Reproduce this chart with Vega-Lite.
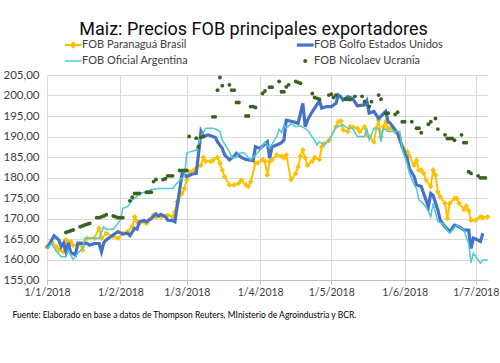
{
  "$schema": "https://vega.github.io/schema/vega-lite/v6.json",
  "width": 441,
  "height": 205,
  "autosize": "none",
  "padding": {"left": 47, "top": 75, "right": 12, "bottom": 83},
  "background": "white",
  "config": {"view": {"stroke": null}},
  "title": {
    "text": "Maiz: Precios FOB principales exportadores",
    "font": "Roboto",
    "fontSize": 18,
    "fontWeight": "normal",
    "color": "#0D0D0D",
    "anchor": "middle",
    "frame": "group",
    "baseline": "alphabetic",
    "dx": -14,
    "dy": 23,
    "offset": 10
  },
  "datasets": {
    "usa": [
      {"d": "2018-01-01", "v": 162.7}, {"d": "2018-01-04", "v": 165.8}, {"d": "2018-01-06", "v": 164.8}, {"d": "2018-01-07", "v": 163.1}, {"d": "2018-01-08", "v": 164.0}, {"d": "2018-01-09", "v": 161.9}, {"d": "2018-01-10", "v": 164.1}, {"d": "2018-01-11", "v": 161.7}, {"d": "2018-01-13", "v": 161.1}, {"d": "2018-01-14", "v": 164.0}, {"d": "2018-01-18", "v": 163.9}, {"d": "2018-01-19", "v": 163.5}, {"d": "2018-01-21", "v": 163.9}, {"d": "2018-01-23", "v": 163.9}, {"d": "2018-01-24", "v": 161.9}, {"d": "2018-01-25", "v": 164.1}, {"d": "2018-01-26", "v": 164.8}, {"d": "2018-01-28", "v": 165.6}, {"d": "2018-01-30", "v": 166.4}, {"d": "2018-01-31", "v": 166.8},
      {"d": "2018-02-02", "v": 166.2}, {"d": "2018-02-04", "v": 166.4}, {"d": "2018-02-05", "v": 165.8}, {"d": "2018-02-07", "v": 167.6}, {"d": "2018-02-08", "v": 167.4}, {"d": "2018-02-09", "v": 169.2}, {"d": "2018-02-11", "v": 169.5}, {"d": "2018-02-12", "v": 169.2}, {"d": "2018-02-14", "v": 170.0}, {"d": "2018-02-16", "v": 171.1}, {"d": "2018-02-17", "v": 170.6}, {"d": "2018-02-18", "v": 171.0}, {"d": "2018-02-20", "v": 170.4}, {"d": "2018-02-21", "v": 169.6}, {"d": "2018-02-23", "v": 169.5}, {"d": "2018-02-24", "v": 169.2}, {"d": "2018-02-27", "v": 180.9}, {"d": "2018-02-28", "v": 180.8},
      {"d": "2018-03-01", "v": 180.2}, {"d": "2018-03-03", "v": 180.8}, {"d": "2018-03-05", "v": 181.0}, {"d": "2018-03-06", "v": 185.9}, {"d": "2018-03-07", "v": 191.2}, {"d": "2018-03-08", "v": 190.0}, {"d": "2018-03-10", "v": 190.4}, {"d": "2018-03-12", "v": 190.0}, {"d": "2018-03-13", "v": 189.8}, {"d": "2018-03-14", "v": 188.7}, {"d": "2018-03-16", "v": 187.1}, {"d": "2018-03-17", "v": 185.5}, {"d": "2018-03-19", "v": 184.3}, {"d": "2018-03-21", "v": 185.2}, {"d": "2018-03-22", "v": 185.9}, {"d": "2018-03-24", "v": 184.9}, {"d": "2018-03-26", "v": 184.4}, {"d": "2018-03-29", "v": 184.1}, {"d": "2018-03-30", "v": 187.5},
      {"d": "2018-04-01", "v": 187.1}, {"d": "2018-04-04", "v": 188.7}, {"d": "2018-04-05", "v": 184.7}, {"d": "2018-04-06", "v": 187.5}, {"d": "2018-04-08", "v": 187.9}, {"d": "2018-04-10", "v": 188.5}, {"d": "2018-04-11", "v": 189.1}, {"d": "2018-04-12", "v": 194.0}, {"d": "2018-04-15", "v": 193.6}, {"d": "2018-04-17", "v": 193.2}, {"d": "2018-04-19", "v": 198.1}, {"d": "2018-04-20", "v": 192.4}, {"d": "2018-04-21", "v": 194.0}, {"d": "2018-04-23", "v": 196.1}, {"d": "2018-04-26", "v": 198.7}, {"d": "2018-04-27", "v": 196.9}, {"d": "2018-04-29", "v": 197.3},
      {"d": "2018-05-01", "v": 197.3}, {"d": "2018-05-03", "v": 198.1}, {"d": "2018-05-04", "v": 200.1}, {"d": "2018-05-05", "v": 199.7}, {"d": "2018-05-06", "v": 198.9}, {"d": "2018-05-08", "v": 199.7}, {"d": "2018-05-09", "v": 199.5}, {"d": "2018-05-10", "v": 199.3}, {"d": "2018-05-12", "v": 197.5}, {"d": "2018-05-15", "v": 197.7}, {"d": "2018-05-16", "v": 198.7}, {"d": "2018-05-17", "v": 195.7}, {"d": "2018-05-19", "v": 196.1}, {"d": "2018-05-21", "v": 194.4}, {"d": "2018-05-24", "v": 196.1}, {"d": "2018-05-25", "v": 193.6}, {"d": "2018-05-26", "v": 193.2}, {"d": "2018-05-29", "v": 190.8}, {"d": "2018-05-31", "v": 187.5},
      {"d": "2018-06-02", "v": 184.7}, {"d": "2018-06-03", "v": 182.2}, {"d": "2018-06-05", "v": 180.2}, {"d": "2018-06-06", "v": 178.2}, {"d": "2018-06-08", "v": 177.8}, {"d": "2018-06-09", "v": 176.1}, {"d": "2018-06-11", "v": 172.9}, {"d": "2018-06-12", "v": 176.1}, {"d": "2018-06-13", "v": 175.6}, {"d": "2018-06-15", "v": 172.1}, {"d": "2018-06-16", "v": 169.6}, {"d": "2018-06-18", "v": 168.0}, {"d": "2018-06-20", "v": 166.8}, {"d": "2018-06-22", "v": 168.4}, {"d": "2018-06-24", "v": 168.0}, {"d": "2018-06-26", "v": 167.2}, {"d": "2018-06-28", "v": 167.2}, {"d": "2018-06-29", "v": 162.7}, {"d": "2018-06-30", "v": 165.2},
      {"d": "2018-07-01", "v": 165.0}, {"d": "2018-07-03", "v": 164.4}, {"d": "2018-07-04", "v": 166.4}
    ],
    "arg": [
      {"d": "2018-01-01", "v": 162.7}, {"d": "2018-01-03", "v": 163.9}, {"d": "2018-01-05", "v": 161.9}, {"d": "2018-01-07", "v": 160.7}, {"d": "2018-01-09", "v": 160.7}, {"d": "2018-01-10", "v": 162.3}, {"d": "2018-01-12", "v": 160.0}, {"d": "2018-01-14", "v": 161.5}, {"d": "2018-01-16", "v": 162.7}, {"d": "2018-01-17", "v": 165.2}, {"d": "2018-01-23", "v": 165.2}, {"d": "2018-01-25", "v": 168.0}, {"d": "2018-01-26", "v": 167.4}, {"d": "2018-01-29", "v": 167.4},
      {"d": "2018-02-01", "v": 169.6}, {"d": "2018-02-02", "v": 172.5}, {"d": "2018-02-04", "v": 172.9}, {"d": "2018-02-06", "v": 174.5}, {"d": "2018-02-08", "v": 175.4}, {"d": "2018-02-09", "v": 176.1}, {"d": "2018-02-12", "v": 176.5}, {"d": "2018-02-14", "v": 177.1}, {"d": "2018-02-17", "v": 177.3}, {"d": "2018-02-23", "v": 177.3}, {"d": "2018-02-26", "v": 179.4}, {"d": "2018-02-28", "v": 180.2},
      {"d": "2018-03-01", "v": 185.9}, {"d": "2018-03-02", "v": 186.2}, {"d": "2018-03-05", "v": 186.7}, {"d": "2018-03-07", "v": 190.0}, {"d": "2018-03-09", "v": 192.0}, {"d": "2018-03-12", "v": 192.0}, {"d": "2018-03-14", "v": 191.6}, {"d": "2018-03-15", "v": 191.2}, {"d": "2018-03-16", "v": 189.1}, {"d": "2018-03-19", "v": 186.3}, {"d": "2018-03-20", "v": 184.9}, {"d": "2018-03-22", "v": 184.9}, {"d": "2018-03-23", "v": 185.9}, {"d": "2018-03-25", "v": 186.1}, {"d": "2018-03-26", "v": 185.5}, {"d": "2018-03-28", "v": 184.3}, {"d": "2018-03-30", "v": 185.5},
      {"d": "2018-04-01", "v": 186.7}, {"d": "2018-04-03", "v": 188.7}, {"d": "2018-04-05", "v": 187.1}, {"d": "2018-04-07", "v": 189.1}, {"d": "2018-04-08", "v": 190.0}, {"d": "2018-04-09", "v": 191.8}, {"d": "2018-04-10", "v": 190.9}, {"d": "2018-04-11", "v": 192.8}, {"d": "2018-04-12", "v": 192.0}, {"d": "2018-04-14", "v": 193.2}, {"d": "2018-04-16", "v": 192.4}, {"d": "2018-04-18", "v": 192.6}, {"d": "2018-04-21", "v": 191.6}, {"d": "2018-04-22", "v": 190.7}, {"d": "2018-04-24", "v": 189.1}, {"d": "2018-04-25", "v": 187.9}, {"d": "2018-04-26", "v": 188.7}, {"d": "2018-04-28", "v": 187.9}, {"d": "2018-04-30", "v": 189.1},
      {"d": "2018-05-01", "v": 190.0}, {"d": "2018-05-03", "v": 192.4}, {"d": "2018-05-06", "v": 192.8}, {"d": "2018-05-08", "v": 192.0}, {"d": "2018-05-10", "v": 192.0}, {"d": "2018-05-12", "v": 190.0}, {"d": "2018-05-15", "v": 190.0}, {"d": "2018-05-16", "v": 192.0}, {"d": "2018-05-17", "v": 189.1}, {"d": "2018-05-19", "v": 192.0}, {"d": "2018-05-21", "v": 192.0}, {"d": "2018-05-22", "v": 188.7}, {"d": "2018-05-23", "v": 192.0}, {"d": "2018-05-25", "v": 191.2}, {"d": "2018-05-30", "v": 191.2}, {"d": "2018-05-31", "v": 186.7},
      {"d": "2018-06-02", "v": 183.5}, {"d": "2018-06-03", "v": 181.0}, {"d": "2018-06-05", "v": 178.2}, {"d": "2018-06-06", "v": 177.3}, {"d": "2018-06-07", "v": 174.5}, {"d": "2018-06-08", "v": 174.1}, {"d": "2018-06-10", "v": 172.9}, {"d": "2018-06-12", "v": 170.4}, {"d": "2018-06-13", "v": 173.7}, {"d": "2018-06-15", "v": 169.2}, {"d": "2018-06-17", "v": 168.8}, {"d": "2018-06-20", "v": 166.4}, {"d": "2018-06-23", "v": 168.4}, {"d": "2018-06-26", "v": 167.2}, {"d": "2018-06-28", "v": 163.9}, {"d": "2018-06-29", "v": 159.2}, {"d": "2018-06-30", "v": 161.5},
      {"d": "2018-07-03", "v": 159.1}, {"d": "2018-07-04", "v": 159.9}, {"d": "2018-07-06", "v": 159.9}
    ],
    "bra": [
      {"d": "2018-01-01", "v": 163.1}, {"d": "2018-01-03", "v": 164.3}, {"d": "2018-01-05", "v": 163.1}, {"d": "2018-01-06", "v": 162.3}, {"d": "2018-01-08", "v": 161.9}, {"d": "2018-01-09", "v": 164.8}, {"d": "2018-01-11", "v": 164.3}, {"d": "2018-01-12", "v": 163.5}, {"d": "2018-01-14", "v": 163.5}, {"d": "2018-01-15", "v": 163.9}, {"d": "2018-01-16", "v": 162.3}, {"d": "2018-01-18", "v": 165.2}, {"d": "2018-01-21", "v": 165.2}, {"d": "2018-01-23", "v": 167.6}, {"d": "2018-01-24", "v": 165.2}, {"d": "2018-01-26", "v": 166.4}, {"d": "2018-01-29", "v": 165.6}, {"d": "2018-01-31", "v": 165.2},
      {"d": "2018-02-02", "v": 166.4}, {"d": "2018-02-04", "v": 166.8}, {"d": "2018-02-06", "v": 168.0}, {"d": "2018-02-07", "v": 170.4}, {"d": "2018-02-08", "v": 169.2}, {"d": "2018-02-09", "v": 168.8}, {"d": "2018-02-11", "v": 169.2}, {"d": "2018-02-12", "v": 168.8}, {"d": "2018-02-13", "v": 169.6}, {"d": "2018-02-15", "v": 170.9}, {"d": "2018-02-16", "v": 170.4}, {"d": "2018-02-18", "v": 170.4}, {"d": "2018-02-20", "v": 170.6}, {"d": "2018-02-21", "v": 170.8}, {"d": "2018-02-23", "v": 170.4}, {"d": "2018-02-24", "v": 171.7}, {"d": "2018-02-25", "v": 174.1}, {"d": "2018-02-27", "v": 176.1}, {"d": "2018-02-28", "v": 177.3},
      {"d": "2018-03-01", "v": 179.4}, {"d": "2018-03-02", "v": 181.4}, {"d": "2018-03-04", "v": 181.8}, {"d": "2018-03-05", "v": 182.2}, {"d": "2018-03-07", "v": 183.0}, {"d": "2018-03-08", "v": 184.9}, {"d": "2018-03-09", "v": 184.0}, {"d": "2018-03-11", "v": 183.9}, {"d": "2018-03-12", "v": 184.2}, {"d": "2018-03-14", "v": 184.9}, {"d": "2018-03-15", "v": 183.5}, {"d": "2018-03-16", "v": 181.8}, {"d": "2018-03-17", "v": 180.2}, {"d": "2018-03-19", "v": 178.2}, {"d": "2018-03-21", "v": 178.2}, {"d": "2018-03-23", "v": 178.6}, {"d": "2018-03-24", "v": 179.4}, {"d": "2018-03-26", "v": 178.2}, {"d": "2018-03-27", "v": 177.8}, {"d": "2018-03-28", "v": 179.0}, {"d": "2018-03-30", "v": 183.5}, {"d": "2018-03-31", "v": 183.6},
      {"d": "2018-04-02", "v": 184.4}, {"d": "2018-04-03", "v": 183.9}, {"d": "2018-04-04", "v": 180.6}, {"d": "2018-04-05", "v": 183.9}, {"d": "2018-04-06", "v": 184.3}, {"d": "2018-04-08", "v": 185.5}, {"d": "2018-04-10", "v": 185.2}, {"d": "2018-04-11", "v": 184.8}, {"d": "2018-04-12", "v": 185.5}, {"d": "2018-04-14", "v": 179.5}, {"d": "2018-04-16", "v": 181.0}, {"d": "2018-04-17", "v": 182.6}, {"d": "2018-04-18", "v": 185.2}, {"d": "2018-04-19", "v": 186.7}, {"d": "2018-04-20", "v": 184.8}, {"d": "2018-04-21", "v": 183.0}, {"d": "2018-04-23", "v": 184.0}, {"d": "2018-04-24", "v": 184.9}, {"d": "2018-04-26", "v": 184.4}, {"d": "2018-04-27", "v": 187.5}, {"d": "2018-04-28", "v": 188.3}, {"d": "2018-04-30", "v": 189.0},
      {"d": "2018-05-03", "v": 192.4}, {"d": "2018-05-04", "v": 193.6}, {"d": "2018-05-05", "v": 193.8}, {"d": "2018-05-06", "v": 191.6}, {"d": "2018-05-08", "v": 191.2}, {"d": "2018-05-09", "v": 192.4}, {"d": "2018-05-10", "v": 192.3}, {"d": "2018-05-12", "v": 192.0}, {"d": "2018-05-13", "v": 191.2}, {"d": "2018-05-15", "v": 192.4}, {"d": "2018-05-16", "v": 190.4}, {"d": "2018-05-17", "v": 190.0}, {"d": "2018-05-19", "v": 188.7}, {"d": "2018-05-20", "v": 192.0}, {"d": "2018-05-21", "v": 194.0}, {"d": "2018-05-22", "v": 190.0}, {"d": "2018-05-23", "v": 192.4}, {"d": "2018-05-24", "v": 193.6}, {"d": "2018-05-25", "v": 192.0}, {"d": "2018-05-26", "v": 192.0}, {"d": "2018-05-28", "v": 191.2}, {"d": "2018-05-30", "v": 189.5}, {"d": "2018-05-31", "v": 187.5},
      {"d": "2018-06-02", "v": 186.3}, {"d": "2018-06-03", "v": 185.2}, {"d": "2018-06-05", "v": 183.0}, {"d": "2018-06-06", "v": 184.2}, {"d": "2018-06-07", "v": 181.8}, {"d": "2018-06-08", "v": 181.8}, {"d": "2018-06-09", "v": 181.0}, {"d": "2018-06-10", "v": 179.4}, {"d": "2018-06-12", "v": 177.8}, {"d": "2018-06-13", "v": 181.8}, {"d": "2018-06-14", "v": 180.6}, {"d": "2018-06-15", "v": 176.5}, {"d": "2018-06-16", "v": 175.3}, {"d": "2018-06-18", "v": 173.7}, {"d": "2018-06-19", "v": 170.0}, {"d": "2018-06-20", "v": 173.7}, {"d": "2018-06-22", "v": 174.9}, {"d": "2018-06-23", "v": 174.9}, {"d": "2018-06-24", "v": 173.7}, {"d": "2018-06-26", "v": 172.2}, {"d": "2018-06-27", "v": 173.0}, {"d": "2018-06-28", "v": 171.9}, {"d": "2018-06-29", "v": 169.6},
      {"d": "2018-07-01", "v": 169.6}, {"d": "2018-07-03", "v": 170.4}, {"d": "2018-07-04", "v": 170.2}, {"d": "2018-07-06", "v": 170.4}
    ],
    "ukr": [
      {"d": "2018-01-09", "v": 166.6}, {"d": "2018-01-10", "v": 166.8}, {"d": "2018-01-11", "v": 167.0}, {"d": "2018-01-12", "v": 167.2},
      {"d": "2018-01-15", "v": 168.0}, {"d": "2018-01-16", "v": 168.2}, {"d": "2018-01-17", "v": 168.4}, {"d": "2018-01-18", "v": 168.6}, {"d": "2018-01-19", "v": 168.8},
      {"d": "2018-01-22", "v": 170.2}, {"d": "2018-01-23", "v": 170.2}, {"d": "2018-01-24", "v": 170.4}, {"d": "2018-01-25", "v": 170.6}, {"d": "2018-01-26", "v": 170.9},
      {"d": "2018-01-29", "v": 170.6}, {"d": "2018-01-30", "v": 170.4}, {"d": "2018-01-31", "v": 170.2}, {"d": "2018-02-01", "v": 170.2}, {"d": "2018-02-02", "v": 170.2},
      {"d": "2018-02-05", "v": 174.3}, {"d": "2018-02-06", "v": 175.2}, {"d": "2018-02-07", "v": 176.1}, {"d": "2018-02-08", "v": 176.1}, {"d": "2018-02-09", "v": 176.1},
      {"d": "2018-02-12", "v": 176.4}, {"d": "2018-02-13", "v": 176.4}, {"d": "2018-02-14", "v": 176.4}, {"d": "2018-02-15", "v": 179.0}, {"d": "2018-02-16", "v": 179.5},
      {"d": "2018-02-19", "v": 179.5}, {"d": "2018-02-20", "v": 179.7}, {"d": "2018-02-21", "v": 180.4}, {"d": "2018-02-22", "v": 180.4}, {"d": "2018-02-23", "v": 180.4},
      {"d": "2018-02-26", "v": 181.7}, {"d": "2018-02-27", "v": 181.7}, {"d": "2018-02-28", "v": 181.7}, {"d": "2018-03-01", "v": 181.7}, {"d": "2018-03-02", "v": 190.0},
      {"d": "2018-03-05", "v": 189.6}, {"d": "2018-03-06", "v": 187.5}, {"d": "2018-03-07", "v": 189.8}, {"d": "2018-03-08", "v": 190.0},
      {"d": "2018-03-12", "v": 194.8}, {"d": "2018-03-13", "v": 194.8}, {"d": "2018-03-14", "v": 201.3}, {"d": "2018-03-15", "v": 204.4}, {"d": "2018-03-16", "v": 202.4},
      {"d": "2018-03-19", "v": 202.6}, {"d": "2018-03-20", "v": 201.3}, {"d": "2018-03-21", "v": 201.3}, {"d": "2018-03-22", "v": 198.3}, {"d": "2018-03-23", "v": 198.3},
      {"d": "2018-03-26", "v": 195.0}, {"d": "2018-03-27", "v": 195.0}, {"d": "2018-03-28", "v": 197.3}, {"d": "2018-03-29", "v": 197.3}, {"d": "2018-03-30", "v": 197.1},
      {"d": "2018-04-02", "v": 200.5}, {"d": "2018-04-03", "v": 201.1}, {"d": "2018-04-05", "v": 202.0}, {"d": "2018-04-06", "v": 202.0},
      {"d": "2018-04-09", "v": 203.4}, {"d": "2018-04-10", "v": 200.9}, {"d": "2018-04-11", "v": 200.9}, {"d": "2018-04-12", "v": 202.1}, {"d": "2018-04-13", "v": 202.6},
      {"d": "2018-04-16", "v": 203.4}, {"d": "2018-04-17", "v": 203.2}, {"d": "2018-04-18", "v": 203.0},
      {"d": "2018-04-23", "v": 200.5}, {"d": "2018-04-24", "v": 199.5}, {"d": "2018-04-25", "v": 199.3}, {"d": "2018-04-26", "v": 199.1},
      {"d": "2018-04-30", "v": 200.1}, {"d": "2018-05-01", "v": 200.3}, {"d": "2018-05-02", "v": 199.5}, {"d": "2018-05-03", "v": 200.1},
      {"d": "2018-05-07", "v": 199.1}, {"d": "2018-05-08", "v": 199.1}, {"d": "2018-05-09", "v": 199.0}, {"d": "2018-05-11", "v": 199.8},
      {"d": "2018-05-14", "v": 199.8}, {"d": "2018-05-15", "v": 198.5}, {"d": "2018-05-17", "v": 197.3}, {"d": "2018-05-18", "v": 198.5},
      {"d": "2018-05-21", "v": 200.1}, {"d": "2018-05-22", "v": 199.1}, {"d": "2018-05-24", "v": 195.7}, {"d": "2018-05-25", "v": 195.7},
      {"d": "2018-05-28", "v": 195.4}, {"d": "2018-05-29", "v": 195.9}, {"d": "2018-05-31", "v": 193.6}, {"d": "2018-06-01", "v": 193.6},
      {"d": "2018-06-04", "v": 193.6}, {"d": "2018-06-06", "v": 192.0}, {"d": "2018-06-07", "v": 192.0}, {"d": "2018-06-08", "v": 190.9},
      {"d": "2018-06-11", "v": 193.0}, {"d": "2018-06-12", "v": 193.6}, {"d": "2018-06-14", "v": 194.4}, {"d": "2018-06-15", "v": 191.8},
      {"d": "2018-06-18", "v": 190.4}, {"d": "2018-06-19", "v": 189.5}, {"d": "2018-06-20", "v": 189.5}, {"d": "2018-06-21", "v": 189.5}, {"d": "2018-06-22", "v": 189.1},
      {"d": "2018-06-25", "v": 190.4}, {"d": "2018-06-26", "v": 188.5}, {"d": "2018-06-27", "v": 188.5}, {"d": "2018-06-28", "v": 181.4}, {"d": "2018-06-29", "v": 181.0},
      {"d": "2018-07-02", "v": 180.4}, {"d": "2018-07-03", "v": 179.9}, {"d": "2018-07-04", "v": 179.9}, {"d": "2018-07-05", "v": 179.9}
    ]
  },
  "encoding": {
    "x": {
      "field": "d",
      "type": "temporal",
      "scale": {"domain": [{"year": 2018, "month": 1, "date": 1}, {"year": 2018, "month": 7, "date": 6, "hours": 4}]},
      "axis": {
        "values": [
          {"year": 2018, "month": 1, "date": 1}, {"year": 2018, "month": 2, "date": 1}, {"year": 2018, "month": 3, "date": 1},
          {"year": 2018, "month": 4, "date": 1}, {"year": 2018, "month": 5, "date": 1}, {"year": 2018, "month": 6, "date": 1},
          {"year": 2018, "month": 7, "date": 1}
        ],
        "format": "%-d/%-m/%Y",
        "labelFont": "Lato",
        "labelFontSize": 10.5,
        "labelColor": "#404040",
        "labelPadding": 3,
        "labelFlush": false,
        "labelOverlap": false,
        "tickSize": 4,
        "tickColor": "#BFBFBF",
        "domainColor": "#BFBFBF",
        "grid": true,
        "gridColor": "#D9D9D9",
        "title": "Fuente: Elaborado en base a datos de Thompson Reuters, MInisterio de Agroindustria y BCR.",
        "titleFont": "Lato",
        "titleFontSize": 8.5,
        "titleFontWeight": "normal",
        "titleColor": "#000000",
        "titleAlign": "left",
        "titleAnchor": "start",
        "titleBaseline": "middle",
        "titleX": -35,
        "titleY": 34
      }
    },
    "y": {
      "field": "v",
      "type": "quantitative",
      "scale": {"domain": [155, 205], "nice": false, "zero": false},
      "axis": {
        "values": [155, 160, 165, 170, 175, 180, 185, 190, 195, 200, 205],
        "labelExpr": "replace(format(datum.value, '.2f'), '.', ',')",
        "labelFont": "Lato",
        "labelFontSize": 11.5,
        "labelColor": "#404040",
        "labelPadding": 8,
        "domain": false,
        "ticks": false,
        "grid": true,
        "gridColor": "#D9D9D9",
        "title": null
      }
    }
  },
  "layer": [
    {
      "data": {"name": "bra", "format": {"parse": {"d": "date:'%Y-%m-%d'"}}},
      "mark": {"type": "line", "strokeWidth": 2, "point": {"shape": "diamond", "filled": true, "size": 32}},
      "encoding": {
        "color": {
          "datum": "FOB Paranaguá Brasil",
          "type": "nominal",
          "scale": {
            "domain": ["FOB Paranaguá Brasil", "FOB Oficial Argentina", "FOB Golfo Estados Unidos", "FOB Nicolaev Ucrania"],
            "range": ["#FFC000", "#4CC9DA", "#4472C4", "#38631F"]
          },
          "legend": {
            "orient": "none",
            "legendX": 20.7,
            "legendY": -35.5,
            "columns": 2,
            "columnPadding": 101,
            "rowPadding": 3,
            "symbolSize": 144,
            "symbolStrokeWidth": 1,
            "labelOffset": 3.4,
            "labelFont": "Lato",
            "labelFontSize": 11,
            "labelColor": "#404040",
            "title": null,
            "encode": {
              "symbols": {
                "update": {
                  "shape": {"signal": "datum.value === 'FOB Nicolaev Ucrania' ? 'circle' : (datum.value === 'FOB Paranaguá Brasil' ? 'M-1.4,0H1.4M0,-0.4L0.4,0L0,0.4L-0.4,0Z' : 'M-1.4,0H1.4')"},
                  "size": {"signal": "datum.value === 'FOB Nicolaev Ucrania' ? 16 : 144"},
                  "strokeWidth": {"signal": "datum.value === 'FOB Golfo Estados Unidos' ? 3.2 : (datum.value === 'FOB Paranaguá Brasil' ? 2 : (datum.value === 'FOB Oficial Argentina' ? 1.5 : 0))"},
                  "stroke": {"signal": "scale('color', datum.value)"},
                  "fill": {"signal": "scale('color', datum.value)"},
                  "opacity": {"value": 1}
                }
              }
            }
          }
        }
      }
    },
    {
      "data": {"name": "usa", "format": {"parse": {"d": "date:'%Y-%m-%d'"}}},
      "mark": {"type": "line", "strokeWidth": 3.2},
      "encoding": {"color": {"datum": "FOB Golfo Estados Unidos", "type": "nominal"}}
    },
    {
      "data": {"name": "arg", "format": {"parse": {"d": "date:'%Y-%m-%d'"}}},
      "mark": {"type": "line", "strokeWidth": 1.5},
      "encoding": {"color": {"datum": "FOB Oficial Argentina", "type": "nominal"}}
    },
    {
      "data": {"name": "ukr", "format": {"parse": {"d": "date:'%Y-%m-%d'"}}},
      "mark": {"type": "circle", "size": 15, "opacity": 1},
      "encoding": {"color": {"datum": "FOB Nicolaev Ucrania", "type": "nominal"}}
    }
  ]
}
